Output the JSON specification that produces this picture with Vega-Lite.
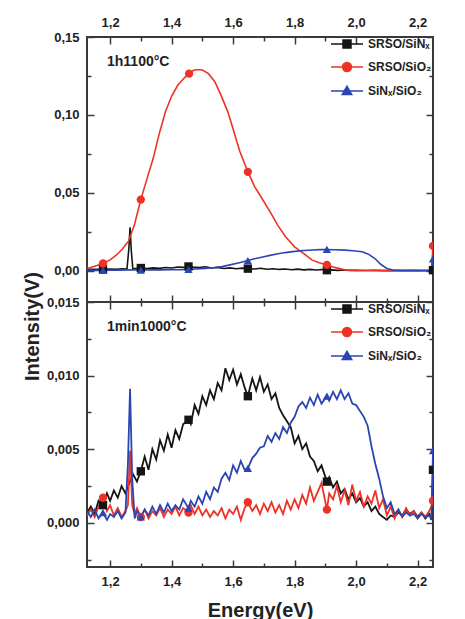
{
  "$schema": "https://vega.github.io/schema/vega-lite/v6.json",
  "background": "white",
  "padding": {"left": 21, "top": 15, "right": 5, "bottom": 0},
  "spacing": 0,
  "bounds": "flush",
  "config": {
    "font": "Liberation Sans",
    "view": {"stroke": "#3a3a3a", "strokeWidth": 2},
    "axis": {
      "domain": false, "grid": false,
      "labelFont": "Liberation Sans", "labelFontWeight": "bold", "labelFontSize": 13, "labelColor": "#222",
      "tickColor": "#3a3a3a", "tickWidth": 1.5,
      "titleFont": "Liberation Sans", "titleFontWeight": "bold", "titleFontSize": 20, "titleColor": "#222"
    },
    "legend": {
      "orient": "top-right", "offset": 0, "padding": 1, "title": " ", "titleFontSize": 5, "titlePadding": 3,
      "labelFont": "Liberation Sans", "labelFontWeight": "bold", "labelFontSize": 12, "labelColor": "#222",
      "symbolSize": 100, "labelOffset": 15, "rowPadding": 8
    }
  },
  "datasets": {
    "top": [
      {"s":"SRSO/SiNx","x":1.125,"y":0.0008},{"s":"SRSO/SiNx","x":1.14,"y":0.001},{"s":"SRSO/SiNx","x":1.16,"y":0.0009},{"s":"SRSO/SiNx","x":1.177,"y":0.0011},{"s":"SRSO/SiNx","x":1.2,"y":0.0012},{"s":"SRSO/SiNx","x":1.22,"y":0.001},{"s":"SRSO/SiNx","x":1.24,"y":0.0013},{"s":"SRSO/SiNx","x":1.255,"y":0.0012},{"s":"SRSO/SiNx","x":1.261,"y":0.014},{"s":"SRSO/SiNx","x":1.265,"y":0.028},{"s":"SRSO/SiNx","x":1.269,"y":0.013},{"s":"SRSO/SiNx","x":1.274,"y":0.0012},{"s":"SRSO/SiNx","x":1.28,"y":0.0015},{"s":"SRSO/SiNx","x":1.3,"y":0.0018},{"s":"SRSO/SiNx","x":1.32,"y":0.0014},{"s":"SRSO/SiNx","x":1.34,"y":0.0019},{"s":"SRSO/SiNx","x":1.36,"y":0.0016},{"s":"SRSO/SiNx","x":1.38,"y":0.0021},{"s":"SRSO/SiNx","x":1.4,"y":0.0018},{"s":"SRSO/SiNx","x":1.42,"y":0.0024},{"s":"SRSO/SiNx","x":1.44,"y":0.0022},{"s":"SRSO/SiNx","x":1.455,"y":0.0028},{"s":"SRSO/SiNx","x":1.47,"y":0.0024},{"s":"SRSO/SiNx","x":1.49,"y":0.0021},{"s":"SRSO/SiNx","x":1.51,"y":0.0026},{"s":"SRSO/SiNx","x":1.53,"y":0.0018},{"s":"SRSO/SiNx","x":1.55,"y":0.0022},{"s":"SRSO/SiNx","x":1.57,"y":0.0015},{"s":"SRSO/SiNx","x":1.59,"y":0.0019},{"s":"SRSO/SiNx","x":1.61,"y":0.0013},{"s":"SRSO/SiNx","x":1.63,"y":0.0017},{"s":"SRSO/SiNx","x":1.648,"y":0.0014},{"s":"SRSO/SiNx","x":1.67,"y":0.0012},{"s":"SRSO/SiNx","x":1.69,"y":0.0016},{"s":"SRSO/SiNx","x":1.71,"y":0.001},{"s":"SRSO/SiNx","x":1.73,"y":0.0013},{"s":"SRSO/SiNx","x":1.75,"y":0.0009},{"s":"SRSO/SiNx","x":1.77,"y":0.0012},{"s":"SRSO/SiNx","x":1.79,"y":0.0007},{"s":"SRSO/SiNx","x":1.81,"y":0.0011},{"s":"SRSO/SiNx","x":1.83,"y":0.0006},{"s":"SRSO/SiNx","x":1.85,"y":0.0009},{"s":"SRSO/SiNx","x":1.87,"y":0.0005},{"s":"SRSO/SiNx","x":1.89,"y":0.0008},{"s":"SRSO/SiNx","x":1.905,"y":0.0004},{"s":"SRSO/SiNx","x":1.92,"y":0.0006},{"s":"SRSO/SiNx","x":1.94,"y":0.0003},{"s":"SRSO/SiNx","x":1.96,"y":0.0005},{"s":"SRSO/SiNx","x":1.98,"y":0.0002},{"s":"SRSO/SiNx","x":2.0,"y":0.0004},{"s":"SRSO/SiNx","x":2.03,"y":0.0002},{"s":"SRSO/SiNx","x":2.06,"y":0.0003},{"s":"SRSO/SiNx","x":2.09,"y":0.0001},{"s":"SRSO/SiNx","x":2.12,"y":0.0002},{"s":"SRSO/SiNx","x":2.15,"y":0.0001},{"s":"SRSO/SiNx","x":2.18,"y":0.0002},{"s":"SRSO/SiNx","x":2.21,"y":0.0001},{"s":"SRSO/SiNx","x":2.245,"y":0.0002},{"s":"SRSO/SiNx","x":2.25,"y":0.0004},
      {"s":"SRSO/SiO2","x":1.125,"y":0.0015},{"s":"SRSO/SiO2","x":1.15,"y":0.003},{"s":"SRSO/SiO2","x":1.177,"y":0.0047},{"s":"SRSO/SiO2","x":1.2,"y":0.007},{"s":"SRSO/SiO2","x":1.22,"y":0.01},{"s":"SRSO/SiO2","x":1.24,"y":0.014},{"s":"SRSO/SiO2","x":1.26,"y":0.019},{"s":"SRSO/SiO2","x":1.28,"y":0.03},{"s":"SRSO/SiO2","x":1.3,"y":0.0457},{"s":"SRSO/SiO2","x":1.32,"y":0.059},{"s":"SRSO/SiO2","x":1.34,"y":0.072},{"s":"SRSO/SiO2","x":1.36,"y":0.088},{"s":"SRSO/SiO2","x":1.38,"y":0.102},{"s":"SRSO/SiO2","x":1.4,"y":0.112},{"s":"SRSO/SiO2","x":1.42,"y":0.119},{"s":"SRSO/SiO2","x":1.44,"y":0.1235},{"s":"SRSO/SiO2","x":1.457,"y":0.1265},{"s":"SRSO/SiO2","x":1.47,"y":0.1285},{"s":"SRSO/SiO2","x":1.48,"y":0.129},{"s":"SRSO/SiO2","x":1.49,"y":0.129},{"s":"SRSO/SiO2","x":1.5,"y":0.1288},{"s":"SRSO/SiO2","x":1.52,"y":0.1265},{"s":"SRSO/SiO2","x":1.54,"y":0.1215},{"s":"SRSO/SiO2","x":1.56,"y":0.113},{"s":"SRSO/SiO2","x":1.583,"y":0.102},{"s":"SRSO/SiO2","x":1.6,"y":0.091},{"s":"SRSO/SiO2","x":1.622,"y":0.0765},{"s":"SRSO/SiO2","x":1.648,"y":0.0635},{"s":"SRSO/SiO2","x":1.67,"y":0.054},{"s":"SRSO/SiO2","x":1.694,"y":0.0464},{"s":"SRSO/SiO2","x":1.72,"y":0.038},{"s":"SRSO/SiO2","x":1.746,"y":0.029},{"s":"SRSO/SiO2","x":1.77,"y":0.022},{"s":"SRSO/SiO2","x":1.8,"y":0.0154},{"s":"SRSO/SiO2","x":1.83,"y":0.011},{"s":"SRSO/SiO2","x":1.856,"y":0.007},{"s":"SRSO/SiO2","x":1.88,"y":0.0052},{"s":"SRSO/SiO2","x":1.905,"y":0.0038},{"s":"SRSO/SiO2","x":1.93,"y":0.0022},{"s":"SRSO/SiO2","x":1.963,"y":0.0006},{"s":"SRSO/SiO2","x":2.0,"y":0.0003},{"s":"SRSO/SiO2","x":2.05,"y":0.0002},{"s":"SRSO/SiO2","x":2.1,"y":0.0002},{"s":"SRSO/SiO2","x":2.15,"y":0.0002},{"s":"SRSO/SiO2","x":2.2,"y":0.0002},{"s":"SRSO/SiO2","x":2.245,"y":0.0003},{"s":"SRSO/SiO2","x":2.25,"y":0.016},
      {"s":"SiNx/SiO2","x":1.125,"y":0.0003},{"s":"SiNx/SiO2","x":1.15,"y":0.0004},{"s":"SiNx/SiO2","x":1.177,"y":0.0003},{"s":"SiNx/SiO2","x":1.2,"y":0.0005},{"s":"SiNx/SiO2","x":1.23,"y":0.0004},{"s":"SiNx/SiO2","x":1.26,"y":0.0006},{"s":"SiNx/SiO2","x":1.3,"y":0.0005},{"s":"SiNx/SiO2","x":1.33,"y":0.0007},{"s":"SiNx/SiO2","x":1.36,"y":0.0006},{"s":"SiNx/SiO2","x":1.4,"y":0.0008},{"s":"SiNx/SiO2","x":1.43,"y":0.0007},{"s":"SiNx/SiO2","x":1.455,"y":0.0009},{"s":"SiNx/SiO2","x":1.48,"y":0.0012},{"s":"SiNx/SiO2","x":1.51,"y":0.0016},{"s":"SiNx/SiO2","x":1.54,"y":0.0021},{"s":"SiNx/SiO2","x":1.564,"y":0.0027},{"s":"SiNx/SiO2","x":1.59,"y":0.0038},{"s":"SiNx/SiO2","x":1.62,"y":0.0052},{"s":"SiNx/SiO2","x":1.648,"y":0.0066},{"s":"SiNx/SiO2","x":1.67,"y":0.0077},{"s":"SiNx/SiO2","x":1.7,"y":0.009},{"s":"SiNx/SiO2","x":1.72,"y":0.0099},{"s":"SiNx/SiO2","x":1.746,"y":0.0109},{"s":"SiNx/SiO2","x":1.77,"y":0.0117},{"s":"SiNx/SiO2","x":1.8,"y":0.0125},{"s":"SiNx/SiO2","x":1.83,"y":0.013},{"s":"SiNx/SiO2","x":1.86,"y":0.0134},{"s":"SiNx/SiO2","x":1.88,"y":0.0136},{"s":"SiNx/SiO2","x":1.905,"y":0.0137},{"s":"SiNx/SiO2","x":1.93,"y":0.0135},{"s":"SiNx/SiO2","x":1.963,"y":0.0133},{"s":"SiNx/SiO2","x":1.99,"y":0.0129},{"s":"SiNx/SiO2","x":2.02,"y":0.0122},{"s":"SiNx/SiO2","x":2.04,"y":0.0107},{"s":"SiNx/SiO2","x":2.061,"y":0.0079},{"s":"SiNx/SiO2","x":2.08,"y":0.0042},{"s":"SiNx/SiO2","x":2.1,"y":0.0015},{"s":"SiNx/SiO2","x":2.12,"y":0.0005},{"s":"SiNx/SiO2","x":2.15,"y":0.0002},{"s":"SiNx/SiO2","x":2.18,"y":0.0003},{"s":"SiNx/SiO2","x":2.21,"y":0.0002},{"s":"SiNx/SiO2","x":2.245,"y":0.0003},{"s":"SiNx/SiO2","x":2.25,"y":0.0077}
    ],
    "topMarks": [
      {"s":"SRSO/SiNx","x":1.177,"y":0.0011},{"s":"SRSO/SiNx","x":1.3,"y":0.0018},{"s":"SRSO/SiNx","x":1.455,"y":0.0028},{"s":"SRSO/SiNx","x":1.648,"y":0.0014},{"s":"SRSO/SiNx","x":1.905,"y":0.0004},{"s":"SRSO/SiNx","x":2.25,"y":0.0004},
      {"s":"SRSO/SiO2","x":1.177,"y":0.0047},{"s":"SRSO/SiO2","x":1.3,"y":0.0457},{"s":"SRSO/SiO2","x":1.457,"y":0.1265},{"s":"SRSO/SiO2","x":1.648,"y":0.0635},{"s":"SRSO/SiO2","x":1.905,"y":0.0038},{"s":"SRSO/SiO2","x":2.25,"y":0.016},
      {"s":"SiNx/SiO2","x":1.177,"y":0.0003},{"s":"SiNx/SiO2","x":1.3,"y":0.0005},{"s":"SiNx/SiO2","x":1.455,"y":0.0009},{"s":"SiNx/SiO2","x":1.648,"y":0.0066},{"s":"SiNx/SiO2","x":1.905,"y":0.0137},{"s":"SiNx/SiO2","x":2.25,"y":0.0077}
    ],
    "topNote": [{"label": "1h1100°C", "x": 1.19, "y": 0.134}],
    "bottom": [
      {"s":"SRSO/SiNx","x":1.125,"y":0.0007},{"s":"SRSO/SiNx","x":1.1375,"y":0.0011},{"s":"SRSO/SiNx","x":1.15,"y":0.0006},{"s":"SRSO/SiNx","x":1.1625,"y":0.0015},{"s":"SRSO/SiNx","x":1.177,"y":0.0012},{"s":"SRSO/SiNx","x":1.19,"y":0.002},{"s":"SRSO/SiNx","x":1.2,"y":0.0015},{"s":"SRSO/SiNx","x":1.2125,"y":0.0022},{"s":"SRSO/SiNx","x":1.225,"y":0.0017},{"s":"SRSO/SiNx","x":1.2375,"y":0.0025},{"s":"SRSO/SiNx","x":1.25,"y":0.002},{"s":"SRSO/SiNx","x":1.2625,"y":0.0027},{"s":"SRSO/SiNx","x":1.275,"y":0.0033},{"s":"SRSO/SiNx","x":1.2875,"y":0.0028},{"s":"SRSO/SiNx","x":1.3,"y":0.0035},{"s":"SRSO/SiNx","x":1.3125,"y":0.0045},{"s":"SRSO/SiNx","x":1.325,"y":0.0036},{"s":"SRSO/SiNx","x":1.3375,"y":0.005},{"s":"SRSO/SiNx","x":1.35,"y":0.0043},{"s":"SRSO/SiNx","x":1.3625,"y":0.0056},{"s":"SRSO/SiNx","x":1.375,"y":0.0049},{"s":"SRSO/SiNx","x":1.3875,"y":0.006},{"s":"SRSO/SiNx","x":1.4,"y":0.0051},{"s":"SRSO/SiNx","x":1.4125,"y":0.0063},{"s":"SRSO/SiNx","x":1.425,"y":0.0057},{"s":"SRSO/SiNx","x":1.4375,"y":0.0067},{"s":"SRSO/SiNx","x":1.455,"y":0.007},{"s":"SRSO/SiNx","x":1.4625,"y":0.0067},{"s":"SRSO/SiNx","x":1.475,"y":0.008},{"s":"SRSO/SiNx","x":1.4875,"y":0.0074},{"s":"SRSO/SiNx","x":1.5,"y":0.0086},{"s":"SRSO/SiNx","x":1.5125,"y":0.008},{"s":"SRSO/SiNx","x":1.525,"y":0.009},{"s":"SRSO/SiNx","x":1.5375,"y":0.0084},{"s":"SRSO/SiNx","x":1.55,"y":0.0095},{"s":"SRSO/SiNx","x":1.5625,"y":0.009},{"s":"SRSO/SiNx","x":1.575,"y":0.0105},{"s":"SRSO/SiNx","x":1.5875,"y":0.0097},{"s":"SRSO/SiNx","x":1.6,"y":0.0104},{"s":"SRSO/SiNx","x":1.6125,"y":0.0094},{"s":"SRSO/SiNx","x":1.625,"y":0.0101},{"s":"SRSO/SiNx","x":1.6375,"y":0.0092},{"s":"SRSO/SiNx","x":1.648,"y":0.0086},{"s":"SRSO/SiNx","x":1.6625,"y":0.0098},{"s":"SRSO/SiNx","x":1.675,"y":0.009},{"s":"SRSO/SiNx","x":1.6875,"y":0.0099},{"s":"SRSO/SiNx","x":1.7,"y":0.0089},{"s":"SRSO/SiNx","x":1.7125,"y":0.0094},{"s":"SRSO/SiNx","x":1.725,"y":0.0084},{"s":"SRSO/SiNx","x":1.7375,"y":0.0088},{"s":"SRSO/SiNx","x":1.75,"y":0.0078},{"s":"SRSO/SiNx","x":1.7625,"y":0.0073},{"s":"SRSO/SiNx","x":1.775,"y":0.0069},{"s":"SRSO/SiNx","x":1.7875,"y":0.0065},{"s":"SRSO/SiNx","x":1.8,"y":0.0054},{"s":"SRSO/SiNx","x":1.8125,"y":0.0059},{"s":"SRSO/SiNx","x":1.825,"y":0.005},{"s":"SRSO/SiNx","x":1.8375,"y":0.0054},{"s":"SRSO/SiNx","x":1.85,"y":0.0045},{"s":"SRSO/SiNx","x":1.8625,"y":0.0042},{"s":"SRSO/SiNx","x":1.875,"y":0.0035},{"s":"SRSO/SiNx","x":1.8875,"y":0.0039},{"s":"SRSO/SiNx","x":1.905,"y":0.0028},{"s":"SRSO/SiNx","x":1.9125,"y":0.0031},{"s":"SRSO/SiNx","x":1.925,"y":0.0024},{"s":"SRSO/SiNx","x":1.9375,"y":0.0028},{"s":"SRSO/SiNx","x":1.95,"y":0.002},{"s":"SRSO/SiNx","x":1.9625,"y":0.0023},{"s":"SRSO/SiNx","x":1.975,"y":0.0016},{"s":"SRSO/SiNx","x":1.9875,"y":0.002},{"s":"SRSO/SiNx","x":2.0,"y":0.0014},{"s":"SRSO/SiNx","x":2.0125,"y":0.0017},{"s":"SRSO/SiNx","x":2.025,"y":0.0011},{"s":"SRSO/SiNx","x":2.0375,"y":0.0014},{"s":"SRSO/SiNx","x":2.05,"y":0.0008},{"s":"SRSO/SiNx","x":2.0625,"y":0.0011},{"s":"SRSO/SiNx","x":2.075,"y":0.0006},{"s":"SRSO/SiNx","x":2.0875,"y":0.0004},{"s":"SRSO/SiNx","x":2.1,"y":0.0002},{"s":"SRSO/SiNx","x":2.1125,"y":0.0005},{"s":"SRSO/SiNx","x":2.125,"y":0.0004},{"s":"SRSO/SiNx","x":2.1375,"y":0.0007},{"s":"SRSO/SiNx","x":2.15,"y":0.0005},{"s":"SRSO/SiNx","x":2.1625,"y":0.0009},{"s":"SRSO/SiNx","x":2.175,"y":0.0006},{"s":"SRSO/SiNx","x":2.1875,"y":0.0008},{"s":"SRSO/SiNx","x":2.2,"y":0.0004},{"s":"SRSO/SiNx","x":2.2125,"y":0.0007},{"s":"SRSO/SiNx","x":2.225,"y":0.0003},{"s":"SRSO/SiNx","x":2.2375,"y":0.0006},{"s":"SRSO/SiNx","x":2.245,"y":0.0002},{"s":"SRSO/SiNx","x":2.25,"y":0.0036},
      {"s":"SRSO/SiO2","x":1.125,"y":0.0005},{"s":"SRSO/SiO2","x":1.1375,"y":0.0009},{"s":"SRSO/SiO2","x":1.15,"y":0.0004},{"s":"SRSO/SiO2","x":1.1625,"y":0.0011},{"s":"SRSO/SiO2","x":1.177,"y":0.0017},{"s":"SRSO/SiO2","x":1.19,"y":0.0008},{"s":"SRSO/SiO2","x":1.2,"y":0.0012},{"s":"SRSO/SiO2","x":1.2125,"y":0.0005},{"s":"SRSO/SiO2","x":1.225,"y":0.001},{"s":"SRSO/SiO2","x":1.2375,"y":0.0004},{"s":"SRSO/SiO2","x":1.25,"y":0.0008},{"s":"SRSO/SiO2","x":1.258,"y":0.0012},{"s":"SRSO/SiO2","x":1.265,"y":0.0049},{"s":"SRSO/SiO2","x":1.272,"y":0.0012},{"s":"SRSO/SiO2","x":1.28,"y":0.0006},{"s":"SRSO/SiO2","x":1.2875,"y":0.001},{"s":"SRSO/SiO2","x":1.3,"y":0.0004},{"s":"SRSO/SiO2","x":1.3125,"y":0.0009},{"s":"SRSO/SiO2","x":1.325,"y":0.0003},{"s":"SRSO/SiO2","x":1.3375,"y":0.0008},{"s":"SRSO/SiO2","x":1.35,"y":0.0005},{"s":"SRSO/SiO2","x":1.3625,"y":0.001},{"s":"SRSO/SiO2","x":1.375,"y":0.0004},{"s":"SRSO/SiO2","x":1.3875,"y":0.0009},{"s":"SRSO/SiO2","x":1.4,"y":0.0006},{"s":"SRSO/SiO2","x":1.4125,"y":0.0011},{"s":"SRSO/SiO2","x":1.425,"y":0.0005},{"s":"SRSO/SiO2","x":1.4375,"y":0.001},{"s":"SRSO/SiO2","x":1.455,"y":0.0007},{"s":"SRSO/SiO2","x":1.4625,"y":0.0012},{"s":"SRSO/SiO2","x":1.475,"y":0.0006},{"s":"SRSO/SiO2","x":1.4875,"y":0.0011},{"s":"SRSO/SiO2","x":1.5,"y":0.0005},{"s":"SRSO/SiO2","x":1.5125,"y":0.0009},{"s":"SRSO/SiO2","x":1.525,"y":0.0004},{"s":"SRSO/SiO2","x":1.5375,"y":0.0008},{"s":"SRSO/SiO2","x":1.55,"y":0.0005},{"s":"SRSO/SiO2","x":1.5625,"y":0.001},{"s":"SRSO/SiO2","x":1.575,"y":0.0003},{"s":"SRSO/SiO2","x":1.5875,"y":0.0009},{"s":"SRSO/SiO2","x":1.6,"y":0.0006},{"s":"SRSO/SiO2","x":1.6125,"y":0.0011},{"s":"SRSO/SiO2","x":1.625,"y":0.0002},{"s":"SRSO/SiO2","x":1.6375,"y":0.001},{"s":"SRSO/SiO2","x":1.648,"y":0.0014},{"s":"SRSO/SiO2","x":1.6625,"y":0.0008},{"s":"SRSO/SiO2","x":1.675,"y":0.0012},{"s":"SRSO/SiO2","x":1.6875,"y":0.0006},{"s":"SRSO/SiO2","x":1.7,"y":0.0013},{"s":"SRSO/SiO2","x":1.7125,"y":0.0008},{"s":"SRSO/SiO2","x":1.725,"y":0.0014},{"s":"SRSO/SiO2","x":1.7375,"y":0.0007},{"s":"SRSO/SiO2","x":1.75,"y":0.0012},{"s":"SRSO/SiO2","x":1.7625,"y":0.0006},{"s":"SRSO/SiO2","x":1.775,"y":0.0015},{"s":"SRSO/SiO2","x":1.7875,"y":0.0009},{"s":"SRSO/SiO2","x":1.8,"y":0.0016},{"s":"SRSO/SiO2","x":1.8125,"y":0.001},{"s":"SRSO/SiO2","x":1.825,"y":0.0019},{"s":"SRSO/SiO2","x":1.8375,"y":0.0013},{"s":"SRSO/SiO2","x":1.85,"y":0.0024},{"s":"SRSO/SiO2","x":1.8625,"y":0.0015},{"s":"SRSO/SiO2","x":1.875,"y":0.0021},{"s":"SRSO/SiO2","x":1.8875,"y":0.0027},{"s":"SRSO/SiO2","x":1.905,"y":0.0009},{"s":"SRSO/SiO2","x":1.9125,"y":0.002},{"s":"SRSO/SiO2","x":1.925,"y":0.0016},{"s":"SRSO/SiO2","x":1.9375,"y":0.0025},{"s":"SRSO/SiO2","x":1.95,"y":0.0014},{"s":"SRSO/SiO2","x":1.9625,"y":0.0022},{"s":"SRSO/SiO2","x":1.975,"y":0.0012},{"s":"SRSO/SiO2","x":1.9875,"y":0.0026},{"s":"SRSO/SiO2","x":2.0,"y":0.0015},{"s":"SRSO/SiO2","x":2.0125,"y":0.0021},{"s":"SRSO/SiO2","x":2.025,"y":0.0011},{"s":"SRSO/SiO2","x":2.0375,"y":0.0018},{"s":"SRSO/SiO2","x":2.05,"y":0.0013},{"s":"SRSO/SiO2","x":2.0625,"y":0.0022},{"s":"SRSO/SiO2","x":2.075,"y":0.001},{"s":"SRSO/SiO2","x":2.0875,"y":0.0016},{"s":"SRSO/SiO2","x":2.1,"y":0.0005},{"s":"SRSO/SiO2","x":2.1125,"y":0.0011},{"s":"SRSO/SiO2","x":2.125,"y":0.0003},{"s":"SRSO/SiO2","x":2.1375,"y":0.0009},{"s":"SRSO/SiO2","x":2.15,"y":0.0004},{"s":"SRSO/SiO2","x":2.1625,"y":0.001},{"s":"SRSO/SiO2","x":2.175,"y":0.0005},{"s":"SRSO/SiO2","x":2.1875,"y":0.0008},{"s":"SRSO/SiO2","x":2.2,"y":0.0003},{"s":"SRSO/SiO2","x":2.2125,"y":0.0007},{"s":"SRSO/SiO2","x":2.225,"y":0.0004},{"s":"SRSO/SiO2","x":2.2375,"y":0.0008},{"s":"SRSO/SiO2","x":2.245,"y":0.0011},{"s":"SRSO/SiO2","x":2.25,"y":0.0015},
      {"s":"SiNx/SiO2","x":1.125,"y":0.0008},{"s":"SiNx/SiO2","x":1.1375,"y":0.0004},{"s":"SiNx/SiO2","x":1.15,"y":0.0009},{"s":"SiNx/SiO2","x":1.1625,"y":0.0003},{"s":"SiNx/SiO2","x":1.177,"y":0.0007},{"s":"SiNx/SiO2","x":1.19,"y":0.0002},{"s":"SiNx/SiO2","x":1.2,"y":0.0006},{"s":"SiNx/SiO2","x":1.2125,"y":0.0004},{"s":"SiNx/SiO2","x":1.225,"y":0.0008},{"s":"SiNx/SiO2","x":1.2375,"y":0.0003},{"s":"SiNx/SiO2","x":1.25,"y":0.0007},{"s":"SiNx/SiO2","x":1.258,"y":0.004},{"s":"SiNx/SiO2","x":1.265,"y":0.0091},{"s":"SiNx/SiO2","x":1.272,"y":0.003},{"s":"SiNx/SiO2","x":1.28,"y":0.0003},{"s":"SiNx/SiO2","x":1.2875,"y":0.0008},{"s":"SiNx/SiO2","x":1.3,"y":0.0004},{"s":"SiNx/SiO2","x":1.3125,"y":0.0009},{"s":"SiNx/SiO2","x":1.325,"y":0.0005},{"s":"SiNx/SiO2","x":1.3375,"y":0.0011},{"s":"SiNx/SiO2","x":1.35,"y":0.0006},{"s":"SiNx/SiO2","x":1.3625,"y":0.0012},{"s":"SiNx/SiO2","x":1.375,"y":0.0007},{"s":"SiNx/SiO2","x":1.3875,"y":0.0013},{"s":"SiNx/SiO2","x":1.4,"y":0.0008},{"s":"SiNx/SiO2","x":1.4125,"y":0.0012},{"s":"SiNx/SiO2","x":1.425,"y":0.0009},{"s":"SiNx/SiO2","x":1.4375,"y":0.0016},{"s":"SiNx/SiO2","x":1.455,"y":0.001},{"s":"SiNx/SiO2","x":1.4625,"y":0.0015},{"s":"SiNx/SiO2","x":1.475,"y":0.0011},{"s":"SiNx/SiO2","x":1.4875,"y":0.0018},{"s":"SiNx/SiO2","x":1.5,"y":0.0013},{"s":"SiNx/SiO2","x":1.5125,"y":0.0021},{"s":"SiNx/SiO2","x":1.525,"y":0.0016},{"s":"SiNx/SiO2","x":1.5375,"y":0.0024},{"s":"SiNx/SiO2","x":1.55,"y":0.0021},{"s":"SiNx/SiO2","x":1.5625,"y":0.003},{"s":"SiNx/SiO2","x":1.575,"y":0.0034},{"s":"SiNx/SiO2","x":1.5875,"y":0.0029},{"s":"SiNx/SiO2","x":1.6,"y":0.0039},{"s":"SiNx/SiO2","x":1.6125,"y":0.0034},{"s":"SiNx/SiO2","x":1.625,"y":0.0042},{"s":"SiNx/SiO2","x":1.6375,"y":0.0036},{"s":"SiNx/SiO2","x":1.648,"y":0.0037},{"s":"SiNx/SiO2","x":1.6625,"y":0.0044},{"s":"SiNx/SiO2","x":1.675,"y":0.0047},{"s":"SiNx/SiO2","x":1.6875,"y":0.0051},{"s":"SiNx/SiO2","x":1.7,"y":0.0052},{"s":"SiNx/SiO2","x":1.7125,"y":0.0059},{"s":"SiNx/SiO2","x":1.725,"y":0.0055},{"s":"SiNx/SiO2","x":1.7375,"y":0.0061},{"s":"SiNx/SiO2","x":1.75,"y":0.0057},{"s":"SiNx/SiO2","x":1.7625,"y":0.0065},{"s":"SiNx/SiO2","x":1.775,"y":0.0061},{"s":"SiNx/SiO2","x":1.7875,"y":0.0068},{"s":"SiNx/SiO2","x":1.8,"y":0.0072},{"s":"SiNx/SiO2","x":1.8125,"y":0.0079},{"s":"SiNx/SiO2","x":1.825,"y":0.0082},{"s":"SiNx/SiO2","x":1.8375,"y":0.0078},{"s":"SiNx/SiO2","x":1.85,"y":0.0085},{"s":"SiNx/SiO2","x":1.8625,"y":0.008},{"s":"SiNx/SiO2","x":1.875,"y":0.0087},{"s":"SiNx/SiO2","x":1.8875,"y":0.0081},{"s":"SiNx/SiO2","x":1.905,"y":0.0086},{"s":"SiNx/SiO2","x":1.9125,"y":0.0083},{"s":"SiNx/SiO2","x":1.925,"y":0.0089},{"s":"SiNx/SiO2","x":1.9375,"y":0.0084},{"s":"SiNx/SiO2","x":1.95,"y":0.009},{"s":"SiNx/SiO2","x":1.9625,"y":0.0084},{"s":"SiNx/SiO2","x":1.975,"y":0.0088},{"s":"SiNx/SiO2","x":1.9875,"y":0.0081},{"s":"SiNx/SiO2","x":2.0,"y":0.008},{"s":"SiNx/SiO2","x":2.0125,"y":0.0076},{"s":"SiNx/SiO2","x":2.025,"y":0.0072},{"s":"SiNx/SiO2","x":2.0375,"y":0.0066},{"s":"SiNx/SiO2","x":2.05,"y":0.0052},{"s":"SiNx/SiO2","x":2.0625,"y":0.004},{"s":"SiNx/SiO2","x":2.075,"y":0.003},{"s":"SiNx/SiO2","x":2.0875,"y":0.0018},{"s":"SiNx/SiO2","x":2.1,"y":0.001},{"s":"SiNx/SiO2","x":2.1125,"y":0.0014},{"s":"SiNx/SiO2","x":2.125,"y":0.0006},{"s":"SiNx/SiO2","x":2.1375,"y":0.0009},{"s":"SiNx/SiO2","x":2.15,"y":0.0004},{"s":"SiNx/SiO2","x":2.1625,"y":0.0007},{"s":"SiNx/SiO2","x":2.175,"y":0.0005},{"s":"SiNx/SiO2","x":2.1875,"y":0.0006},{"s":"SiNx/SiO2","x":2.2,"y":0.0003},{"s":"SiNx/SiO2","x":2.2125,"y":0.0006},{"s":"SiNx/SiO2","x":2.225,"y":0.0004},{"s":"SiNx/SiO2","x":2.2375,"y":0.0005},{"s":"SiNx/SiO2","x":2.245,"y":0.0003},{"s":"SiNx/SiO2","x":2.25,"y":0.0049}
    ],
    "bottomMarks": [
      {"s":"SRSO/SiNx","x":1.177,"y":0.0012},{"s":"SRSO/SiNx","x":1.3,"y":0.0035},{"s":"SRSO/SiNx","x":1.455,"y":0.007},{"s":"SRSO/SiNx","x":1.648,"y":0.0086},{"s":"SRSO/SiNx","x":1.905,"y":0.0028},{"s":"SRSO/SiNx","x":2.25,"y":0.0036},
      {"s":"SRSO/SiO2","x":1.177,"y":0.0017},{"s":"SRSO/SiO2","x":1.3,"y":0.0004},{"s":"SRSO/SiO2","x":1.455,"y":0.0007},{"s":"SRSO/SiO2","x":1.648,"y":0.0014},{"s":"SRSO/SiO2","x":1.905,"y":0.0009},{"s":"SRSO/SiO2","x":2.25,"y":0.0015},
      {"s":"SiNx/SiO2","x":1.177,"y":0.0007},{"s":"SiNx/SiO2","x":1.3,"y":0.0004},{"s":"SiNx/SiO2","x":1.455,"y":0.001},{"s":"SiNx/SiO2","x":1.648,"y":0.0037},{"s":"SiNx/SiO2","x":1.905,"y":0.0086},{"s":"SiNx/SiO2","x":2.25,"y":0.0049}
    ],
    "bottomNote": [{"label": "1min1000°C", "x": 1.19, "y": 0.01328}]
  },
  "vconcat": [
    {
      "width": 346,
      "height": 265,
      "layer": [
        {
          "data": {"name": "top"},
          "mark": {"type": "line", "strokeWidth": 1.6, "clip": true},
          "encoding": {
            "x": {"field": "x", "type": "quantitative",
              "scale": {"domain": [1.125, 2.25], "nice": false, "zero": false},
              "axis": {"orient": "top", "title": null, "values": [1.2, 1.3, 1.4, 1.5, 1.6, 1.7, 1.8, 1.9, 2.0, 2.1, 2.2],
                "labelExpr": "abs(datum.value*5-round(datum.value*5))<0.01 ? replace(format(datum.value,'.1f'),'.',',') : ''",
                "tickSize": {"condition": {"test": "abs(datum.value*5-round(datum.value*5))<0.01", "value": -7}, "value": -4},
                "labelPadding": 15}},
            "y": {"field": "y", "type": "quantitative",
              "scale": {"domain": [-0.02, 0.15], "nice": false, "zero": false},
              "axis": {"orient": "left", "title": null, "values": [0, 0.025, 0.05, 0.075, 0.1, 0.125, 0.15],
                "labelExpr": "abs(datum.value*20-round(datum.value*20))<0.01 ? replace(format(datum.value,'.2f'),'.',',') : ''",
                "tickSize": {"condition": {"test": "abs(datum.value*20-round(datum.value*20))<0.01", "value": -7}, "value": -4},
                "labelPadding": 15}},
            "color": {"field": "s", "type": "nominal",
              "scale": {"domain": ["SRSO/SiNx", "SRSO/SiO2", "SiNx/SiO2"], "range": ["#151515", "#ee3326", "#2b46b3"]},
              "legend": {
                "labelExpr": "replace(replace(datum.label,'SiNx','SiNₓ'),'SiO2','SiO₂')",
                "encode": {"symbols": {"update": {
                  "shape": {"signal": "datum.value==='SRSO/SiNx' ? 'M-3.2,0H3.2M-0.8,-0.8H0.8V0.8H-0.8Z' : datum.value==='SRSO/SiO2' ? 'M-3.2,0H3.2M-0.9,0A0.9,0.9,0,1,0,0.9,0A0.9,0.9,0,1,0,-0.9,0Z' : 'M-3.2,0H3.2M0,-0.95L0.95,0.7H-0.95Z'"},
                  "fill": {"signal": "datum.value==='SRSO/SiNx' ? '#151515' : datum.value==='SRSO/SiO2' ? '#ee3326' : '#2b46b3'"},
                  "stroke": {"signal": "datum.value==='SRSO/SiNx' ? '#151515' : datum.value==='SRSO/SiO2' ? '#ee3326' : '#2b46b3'"},
                  "strokeWidth": {"value": 1.5},
                  "size": {"value": 100},
                  "fillOpacity": {"value": 1},
                  "strokeOpacity": {"value": 1}
                }}}
              }}
          }
        },
        {
          "data": {"name": "topMarks"},
          "mark": {"type": "point", "filled": true, "opacity": 1, "size": 70, "clip": true},
          "encoding": {
            "x": {"field": "x", "type": "quantitative",
              "axis": {"orient": "bottom", "title": null, "labels": false, "values": [1.2, 1.3, 1.4, 1.5, 1.6, 1.7, 1.8, 1.9, 2.0, 2.1, 2.2],
                "tickSize": {"condition": {"test": "abs(datum.value*5-round(datum.value*5))<0.01", "value": -7}, "value": -4}}},
            "y": {"field": "y", "type": "quantitative",
              "axis": {"orient": "right", "title": null, "labels": false, "values": [0, 0.025, 0.05, 0.075, 0.1, 0.125, 0.15],
                "tickSize": {"condition": {"test": "abs(datum.value*20-round(datum.value*20))<0.01", "value": -7}, "value": -4}}},
            "color": {"field": "s", "type": "nominal"},
            "shape": {"field": "s", "type": "nominal",
              "scale": {"domain": ["SRSO/SiNx", "SRSO/SiO2", "SiNx/SiO2"], "range": ["square", "circle", "triangle-up"]},
              "legend": null}
          }
        },
        {
          "data": {"name": "topNote"},
          "mark": {"type": "text", "align": "left", "baseline": "middle", "font": "Liberation Sans", "fontWeight": "bold", "fontSize": 14, "color": "#222"},
          "encoding": {
            "x": {"field": "x", "type": "quantitative", "axis": null},
            "y": {"field": "y", "type": "quantitative", "axis": null},
            "text": {"field": "label"}
          }
        }
      ],
      "resolve": {"axis": {"x": "independent", "y": "independent"}}
    },
    {
      "width": 346,
      "height": 265,
      "layer": [
        {
          "data": {"name": "bottom"},
          "mark": {"type": "line", "strokeWidth": 1.8, "clip": true},
          "encoding": {
            "x": {"field": "x", "type": "quantitative",
              "scale": {"domain": [1.125, 2.25], "nice": false, "zero": false},
              "axis": {"orient": "bottom", "title": "Energy(eV)", "titlePadding": 12, "values": [1.2, 1.3, 1.4, 1.5, 1.6, 1.7, 1.8, 1.9, 2.0, 2.1, 2.2],
                "labelExpr": "abs(datum.value*5-round(datum.value*5))<0.01 ? replace(format(datum.value,'.1f'),'.',',') : ''",
                "tickSize": {"condition": {"test": "abs(datum.value*5-round(datum.value*5))<0.01", "value": -7}, "value": -4},
                "labelPadding": 15}},
            "y": {"field": "y", "type": "quantitative",
              "scale": {"domain": [-0.003, 0.015], "nice": false, "zero": false},
              "axis": {"orient": "left", "title": "Intensity(V)", "titleY": 24, "titlePadding": 4,
                "values": [-0.0025, 0, 0.0025, 0.005, 0.0075, 0.01, 0.0125, 0.015],
                "labelExpr": "abs(datum.value*200-round(datum.value*200))<0.01 ? replace(format(datum.value,'.3f'),'.',',') : ''",
                "tickSize": {"condition": {"test": "abs(datum.value*200-round(datum.value*200))<0.01", "value": -7}, "value": -4},
                "labelPadding": 15}},
            "color": {"field": "s", "type": "nominal",
              "scale": {"domain": ["SRSO/SiNx", "SRSO/SiO2", "SiNx/SiO2"], "range": ["#151515", "#ee3326", "#2b46b3"]},
              "legend": {
                "labelExpr": "replace(replace(datum.label,'SiNx','SiNₓ'),'SiO2','SiO₂')",
                "encode": {"symbols": {"update": {
                  "shape": {"signal": "datum.value==='SRSO/SiNx' ? 'M-3.2,0H3.2M-0.8,-0.8H0.8V0.8H-0.8Z' : datum.value==='SRSO/SiO2' ? 'M-3.2,0H3.2M-0.9,0A0.9,0.9,0,1,0,0.9,0A0.9,0.9,0,1,0,-0.9,0Z' : 'M-3.2,0H3.2M0,-0.95L0.95,0.7H-0.95Z'"},
                  "fill": {"signal": "datum.value==='SRSO/SiNx' ? '#151515' : datum.value==='SRSO/SiO2' ? '#ee3326' : '#2b46b3'"},
                  "stroke": {"signal": "datum.value==='SRSO/SiNx' ? '#151515' : datum.value==='SRSO/SiO2' ? '#ee3326' : '#2b46b3'"},
                  "strokeWidth": {"value": 1.5},
                  "size": {"value": 100},
                  "fillOpacity": {"value": 1},
                  "strokeOpacity": {"value": 1}
                }}}
              }}
          }
        },
        {
          "data": {"name": "bottomMarks"},
          "mark": {"type": "point", "filled": true, "opacity": 1, "size": 70, "clip": true},
          "encoding": {
            "x": {"field": "x", "type": "quantitative",
              "axis": {"orient": "top", "title": null, "labels": false, "values": [1.2, 1.3, 1.4, 1.5, 1.6, 1.7, 1.8, 1.9, 2.0, 2.1, 2.2],
                "tickSize": {"condition": {"test": "abs(datum.value*5-round(datum.value*5))<0.01", "value": -7}, "value": -4}}},
            "y": {"field": "y", "type": "quantitative",
              "axis": {"orient": "right", "title": null, "labels": false, "values": [-0.0025, 0, 0.0025, 0.005, 0.0075, 0.01, 0.0125, 0.015],
                "tickSize": {"condition": {"test": "abs(datum.value*200-round(datum.value*200))<0.01", "value": -7}, "value": -4}}},
            "color": {"field": "s", "type": "nominal"},
            "shape": {"field": "s", "type": "nominal",
              "scale": {"domain": ["SRSO/SiNx", "SRSO/SiO2", "SiNx/SiO2"], "range": ["square", "circle", "triangle-up"]},
              "legend": null}
          }
        },
        {
          "data": {"name": "bottomNote"},
          "mark": {"type": "text", "align": "left", "baseline": "middle", "font": "Liberation Sans", "fontWeight": "bold", "fontSize": 14, "color": "#222"},
          "encoding": {
            "x": {"field": "x", "type": "quantitative", "axis": null},
            "y": {"field": "y", "type": "quantitative", "axis": null},
            "text": {"field": "label"}
          }
        }
      ],
      "resolve": {"axis": {"x": "independent", "y": "independent"}}
    }
  ],
  "resolve": {"scale": {"color": "independent"}, "legend": {"color": "independent"}}
}
